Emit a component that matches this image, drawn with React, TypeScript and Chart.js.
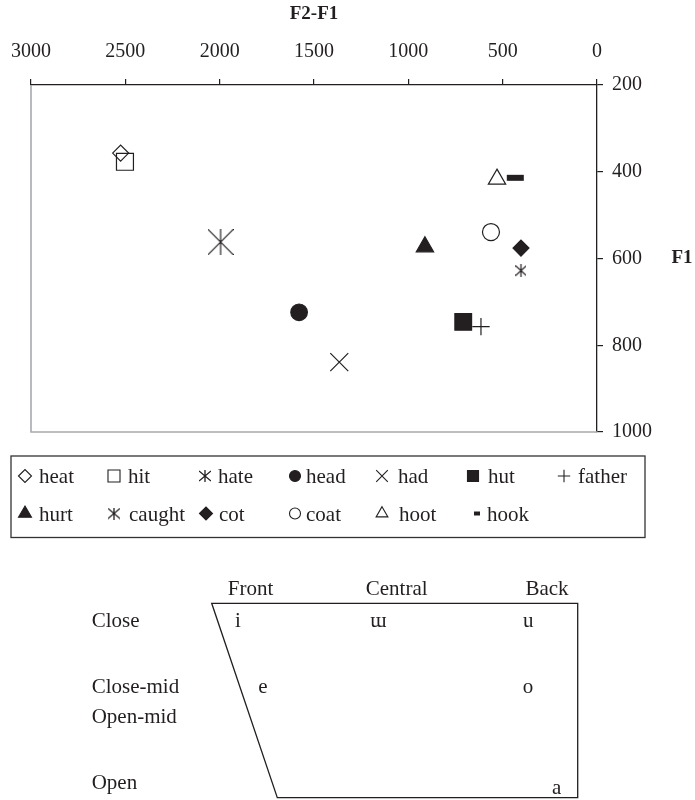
import { useEffect, useRef } from 'react';
import { Chart, registerables } from 'chart.js';
import { drawPoint } from 'chart.js/helpers';

Chart.register(...registerables);

// ---------------- data ----------------
const words = ['heat', 'hit', 'hate', 'head', 'had', 'hut', 'father', 'hurt', 'caught', 'cot', 'coat', 'hoot', 'hook'];
const f2MinusF1 = [2525, 2502, 1995, 1579, 1366, 709, 615, 912, 403, 403, 562, 530, 433];
const f1Values = [357, 377, 562, 724, 839, 746, 757, 573, 628, 576, 539, 417, 414];
const xTickValues = [3000, 2500, 2000, 1500, 1000, 500, 0];
const yTickValues = [200, 400, 600, 800, 1000];
const xTitle = 'F2-F1';
const yTitle = 'F1';

// vowel chart text
const backnessLabels = ['Front', 'Central', 'Back'];
const heightLabels = ['Close', 'Close-mid', 'Open-mid', 'Open'];
const vowelSymbols = ['i', 'ɯ', 'u', 'e', 'o', 'a'];

// ---------------- styling / layout ----------------
const SERIF = '"Liberation Serif", "DejaVu Serif", serif';
const INK = '#231f20';

type Spec = { style: string; r: number; fill: boolean; bw?: number; lr: number; lbw?: number };
// one per word, same order
const markerSpecs: Spec[] = [
  { style: 'rectRot', r: 8, fill: false, lr: 6.5 },           // heat
  { style: 'rect', r: 12, fill: false, lr: 8.5 },             // hit
  { style: 'astBig', r: 12, fill: false, lr: 6 },             // hate
  { style: 'circle', r: 8.3, fill: true, lr: 5.5 },           // head
  { style: 'crossRot', r: 12.7, fill: false, lr: 8.2 },       // had
  { style: 'rect', r: 11.8, fill: true, lr: 7.8 },            // hut
  { style: 'cross', r: 8.7, fill: false, lr: 6.2 },           // father
  { style: 'triangle', r: 10, fill: true, lr: 7.5 },          // hurt
  { style: 'astSmall', r: 6, fill: false, lr: 6 },            // caught
  { style: 'rectRot', r: 8, fill: true, lr: 6.5 },            // cot
  { style: 'circle', r: 8.5, fill: false, lr: 5.5 },          // coat
  { style: 'triangle', r: 10, fill: false, lr: 6.8 },         // hoot
  { style: 'line', r: 8.5, fill: true, bw: 6, lr: 3, lbw: 4 } // hook
];

// legend slot: [symbol x, text x, row]
const legendSlots: [number, number, number][] = [
  [25, 39, 0], [114, 128, 0], [205, 218, 0], [295, 306, 0], [382, 398, 0], [473, 488, 0], [564, 578, 0],
  [25, 39, 1], [114, 129, 1], [206, 219, 1], [295, 306, 1], [382, 399, 1], [477, 487, 1]
];
const legendRowSymY = [476, 513.5];
const legendRowTextY = [483, 520.5];

function makeAsterisk(w: number, h: number, inset: number, lw: number) {
  const c = document.createElement('canvas');
  c.width = w;
  c.height = h;
  const ctx = c.getContext('2d')!;
  ctx.strokeStyle = INK;
  ctx.lineWidth = lw;
  ctx.beginPath();
  ctx.moveTo(w / 2, 0);
  ctx.lineTo(w / 2, h);
  ctx.moveTo(0, inset);
  ctx.lineTo(w, h - inset);
  ctx.moveTo(w, inset);
  ctx.lineTo(0, h - inset);
  ctx.stroke();
  return c;
}

export default function App() {
  const ref = useRef<HTMLCanvasElement | null>(null);

  useEffect(() => {
    if (!ref.current) return;
    const astBig = makeAsterisk(26, 26, 0, 1.2);
    const astSmall = makeAsterisk(11, 13, 1.5, 1.2);
    const astLegend = makeAsterisk(12, 12, 1, 1.3);

    const resolveStyle = (s: string, legend: boolean): any => {
      if (s === 'astBig') return legend ? astLegend : astBig;
      if (s === 'astSmall') return legend ? astLegend : astSmall;
      return s;
    };

    const datasets = words.map((w, i) => {
      const sp = markerSpecs[i];
      return {
        label: w,
        data: [{ x: f2MinusF1[i], y: f1Values[i] }],
        pointStyle: resolveStyle(sp.style, false),
        pointRadius: sp.r,
        pointHoverRadius: sp.r,
        pointBackgroundColor: sp.fill ? INK : 'rgba(0,0,0,0)',
        pointBorderColor: INK,
        pointBorderWidth: sp.bw ?? 1.2,
        pointHoverBorderWidth: sp.bw ?? 1.2,
        showLine: false,
      };
    });

    const extras = {
      id: 'extras',
      beforeDatasetsDraw(chart: any) {
        const { ctx, chartArea: a } = chart;
        ctx.save();
        ctx.strokeStyle = '#a7a9ac';
        ctx.lineWidth = 1.6;
        ctx.beginPath();
        ctx.moveTo(a.left, a.top);
        ctx.lineTo(a.left, a.bottom);
        ctx.lineTo(a.right, a.bottom);
        ctx.stroke();
        ctx.restore();
      },
      afterDraw(chart: any) {
        const { ctx, chartArea: a } = chart;
        ctx.save();
        // y-axis title, horizontal
        ctx.fillStyle = INK;
        ctx.font = `bold 19px ${SERIF}`;
        ctx.textAlign = 'center';
        ctx.textBaseline = 'middle';
        ctx.fillText(yTitle, 682, (a.top + a.bottom) / 2);

        // legend box
        ctx.strokeStyle = '#333';
        ctx.lineWidth = 1.3;
        ctx.strokeRect(11, 456, 634, 81.5);
        words.forEach((w, i) => {
          const sp = markerSpecs[i];
          const [sx, tx, row] = legendSlots[i];
          ctx.save();
          ctx.fillStyle = INK;
          ctx.strokeStyle = INK;
          ctx.lineWidth = sp.lbw ?? 1.1;
          const style = resolveStyle(sp.style, true);
          if (!sp.fill && typeof style === 'string') {
            ctx.fillStyle = 'rgba(0,0,0,0)';
          }
          drawPoint(ctx, { pointStyle: style, radius: sp.lr, rotation: 0, borderWidth: sp.lbw ?? 1.1 } as any, sx, legendRowSymY[row]);
          ctx.restore();
          ctx.fillStyle = INK;
          ctx.font = `21px ${SERIF}`;
          ctx.textAlign = 'left';
          ctx.textBaseline = 'alphabetic';
          ctx.fillText(w, tx, legendRowTextY[row]);
        });

        // vowel quadrilateral
        ctx.strokeStyle = INK;
        ctx.lineWidth = 1.3;
        ctx.beginPath();
        ctx.moveTo(211.7, 603.3);
        ctx.lineTo(577.7, 603.3);
        ctx.lineTo(577.7, 797.7);
        ctx.lineTo(277.3, 797.7);
        ctx.closePath();
        ctx.stroke();

        ctx.fillStyle = INK;
        ctx.font = `21px ${SERIF}`;
        ctx.textBaseline = 'alphabetic';
        ctx.textAlign = 'center';
        const colX = [250.5, 396.7, 547];
        backnessLabels.forEach((t, i) => ctx.fillText(t, colX[i], 595));
        ctx.textAlign = 'left';
        const rowY = [626.7, 693.3, 723.3, 788.5];
        heightLabels.forEach((t, i) => ctx.fillText(t, 91.7, rowY[i]));
        ctx.textAlign = 'center';
        const vowelPos: [number, number][] = [
          [238, 626.7], [378.3, 626.7], [528.3, 626.7], [263, 693.3], [528, 693.3], [556.7, 794],
        ];
        vowelSymbols.forEach((v, i) => ctx.fillText(v, vowelPos[i][0], vowelPos[i][1]));
        ctx.restore();
      },
    };

    const zeroPad = (s: any) => {
      s.paddingLeft = 0;
      s.paddingRight = 0;
      s.paddingTop = 0;
      s.paddingBottom = 0;
    };

    const chart = new Chart(ref.current, {
      type: 'scatter',
      data: { datasets } as any,
      plugins: [extras],
      options: {
        responsive: false,
        animation: false,
        events: [],
        layout: { padding: { left: 31, right: 0, top: 0, bottom: 368 } },
        plugins: { legend: { display: false }, tooltip: { enabled: false } },
        scales: {
          x: {
            type: 'linear',
            position: 'top',
            reverse: true,
            min: 0,
            max: 3000,
            afterFit: (s: any) => { s.height = 85; zeroPad(s); },
            afterBuildTicks: (s: any) => { s.ticks = xTickValues.map((v) => ({ value: v })); },
            ticks: {
              callback: (v: any) => String(v),
              font: { family: SERIF, size: 20 },
              color: INK,
              padding: 15,
              maxRotation: 0,
              autoSkip: false,
            },
            grid: { drawOnChartArea: false, drawTicks: true, tickLength: 6, color: INK, lineWidth: 1.2 },
            border: { display: true, color: INK, width: 1.3 },
            title: {
              display: true,
              text: xTitle,
              font: { family: SERIF, size: 19, weight: 'bold' },
              color: INK,
              padding: { top: 3, bottom: 0 },
            },
          },
          y: {
            type: 'linear',
            position: 'right',
            reverse: true,
            min: 200,
            max: 1000,
            afterFit: (s: any) => { s.width = 98; zeroPad(s); },
            afterBuildTicks: (s: any) => { s.ticks = yTickValues.map((v) => ({ value: v })); },
            ticks: {
              callback: (v: any) => String(v),
              font: { family: SERIF, size: 20 },
              color: INK,
              padding: 9,
              autoSkip: false,
            },
            grid: { drawOnChartArea: false, drawTicks: true, tickLength: 6, color: INK, lineWidth: 1.2 },
            border: { display: true, color: INK, width: 1.3 },
            title: { display: false },
          },
        },
      } as any,
    });
    return () => chart.destroy();
  }, []);

  return (
    <div style={{ position: 'fixed', left: 0, top: 0, width: 695, height: 800, background: '#fff' }}>
      <canvas ref={ref} width={695} height={800} style={{ display: 'block', width: 695, height: 800 }} />
    </div>
  );
}
